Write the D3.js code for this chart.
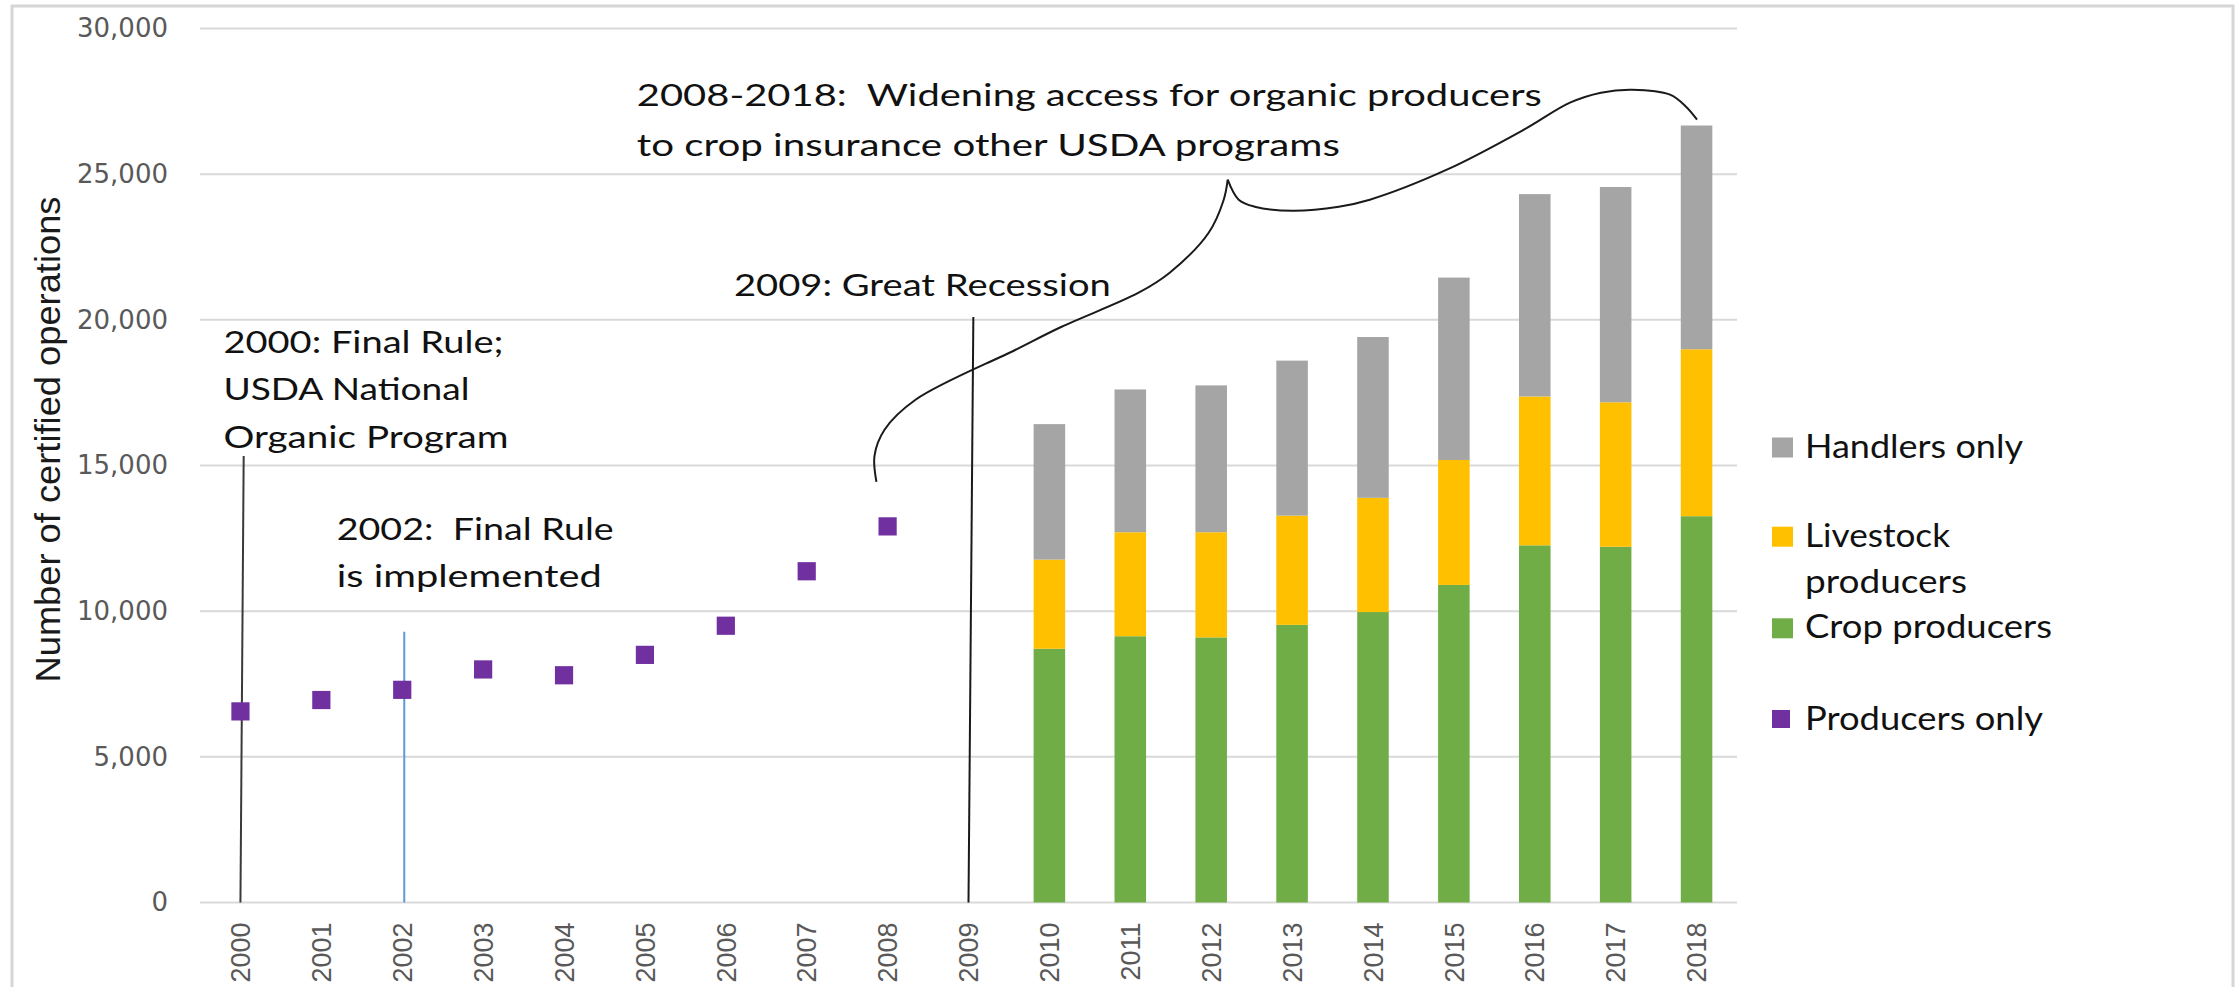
<!DOCTYPE html>
<html><head><meta charset="utf-8">
<script src="https://cdn.jsdelivr.net/npm/d3@7/dist/d3.min.js"></script>
<style>
html,body{margin:0;padding:0;background:#fff;}
svg{display:block;}
text{white-space:pre;}
</style>
</head><body>
<svg id="chart" width="2239" height="987"></svg>
<script>
// ---------------- DATA ----------------
const years = ["2000","2001","2002","2003","2004","2005","2006","2007","2008","2009",
               "2010","2011","2012","2013","2014","2015","2016","2017","2018"];
const pointYears = ["2000","2001","2002","2003","2004","2005","2006","2007","2008"];
const producersOnly = [6560, 6950, 7300, 8000, 7800, 8500, 9500, 11370, 12910];
const barYears = ["2010","2011","2012","2013","2014","2015","2016","2017","2018"];
const cropProducers      = [8710, 9140, 9100, 9530, 9970, 10900, 12260, 12210, 13260];
const livestockProducers = [3060, 3570, 3610, 3750, 3920, 4290, 5110, 4960, 5730];
const handlersOnly       = [4650, 4900, 5040, 5320, 5520, 6260, 6945, 7390, 7680];
const yTicks = [0, 5000, 10000, 15000, 20000, 25000, 30000];
const yTitle = "Number of certified operations";
const legendLabels = [["Handlers only"], ["Livestock", "producers"], ["Crop producers"], ["Producers only"]];
// annotation texts, anchored in data space [year, value]
const noteTexts = [
  ["2000: Final Rule;", "USDA National", "Organic Program"],
  ["2002:  Final Rule", "is implemented"],
  ["2009: Great Recession"],
  ["2008-2018:  Widening access for organic producers", "to crop insurance other USDA programs"]
];
const noteAnchors = [[1999.79, 18870], [2001.19, 12450], [2006.10, 20830], [2004.90, 27330]];
// leader lines [year, value]
const leader2000 = [[2000.04, 15330], [2000.0, 0]];
const leader2002 = [[2002.025, 9290], [2002.025, 0]];
const leader2009 = [[2009.06, 20100], [2009.0, 0]];
// brace (two arms meeting at a cusp under the 2008-2018 note)
const braceLeft = [[2007.862,14440],[2007.838,15333],[2007.962,16226],[2008.345,17256],[2009.582,18973],
                   [2010.151,19763],[2011.103,20930],[2011.487,21617],[2011.969,22991],[2012.155,24124],[2012.204,24811]];
const braceRight = [[2012.204,24811],[2012.340,24124],[2012.538,23884],[2013.008,23746],[2013.577,23884],
                    [2013.961,24124],[2014.913,25154],[2015.866,26528],[2016.435,27455],[2016.818,27798],
                    [2017.202,27901],[2017.672,27730],[2017.870,27317],[2018.006,26871]];

// ---------------- STYLE / LAYOUT ----------------
const colors = {handlers:"#A5A5A5", livestock:"#FFC000", crop:"#70AD47", producers:"#7030A0"};
const plot = {left:200, right:1737, top:28.5, bottom:902.5};
const annFont = "Lato, 'Open Sans', sans-serif";
// widths of the stretched reference texts
const noteWidths = [[280, 246, 285], [277, 265], [377], [905, 703]];
const noteLineGap = [47.5, 47, 0, 50];
const legendWidths = [[218], [145, 162], [247], [238]];

const svg = d3.select("#chart");

// frame
svg.append("rect").attr("x",12).attr("y",6).attr("width",2221).attr("height",1000)
   .attr("fill","none").attr("stroke","#D6D6D6").attr("stroke-width",3);

const x = d3.scaleBand().domain(years).range([plot.left, plot.right]).padding(0);
const bw = x.bandwidth();
const cx = d => x(d) + bw/2;
const xLin = d3.scaleLinear().domain([2000, 2018]).range([cx("2000"), cx("2018")]);
const y = d3.scaleLinear().domain([0, 30000]).range([plot.bottom, plot.top]);

// gridlines
svg.append("g").selectAll("line").data(yTicks).join("line")
  .attr("x1", plot.left).attr("x2", plot.right)
  .attr("y1", d => y(d)).attr("y2", d => y(d))
  .attr("stroke", "#D9D9D9").attr("stroke-width", 2);

// y axis labels
const gy = svg.append("g").attr("transform", `translate(${plot.left},0)`)
  .call(d3.axisLeft(y).tickValues(yTicks).tickSize(0).tickPadding(32).tickFormat(d3.format(",")));
gy.select(".domain").remove();
gy.selectAll("text").attr("font-family","'DejaVu Sans', sans-serif").attr("font-size",26).attr("fill","#595959");

// x axis labels
const gx = svg.append("g").attr("transform", `translate(0,${plot.bottom})`)
  .call(d3.axisBottom(x).tickSize(0).tickPadding(0));
gx.select(".domain").remove();
gx.selectAll("text")
  .attr("transform","rotate(-90)").attr("text-anchor","end")
  .attr("x",-20).attr("y",0).attr("dy","0.36em")
  .attr("font-family","'Liberation Sans', Arial, sans-serif").attr("font-size",27).attr("fill","#595959");

// y title
svg.append("text")
  .attr("transform", `translate(60,${(y(0)+y(30000))/2 - 26}) rotate(-90)`)
  .attr("text-anchor","middle")
  .attr("font-family","'Liberation Sans', Arial, sans-serif").attr("font-size",35).attr("fill","#1a1a1a")
  .attr("textLength",486).attr("lengthAdjust","spacingAndGlyphs")
  .text(yTitle);

// stacked bars
const table = barYears.map((yr,i) => ({year:yr, crop:cropProducers[i], livestock:livestockProducers[i], handlers:handlersOnly[i]}));
const stack = d3.stack().keys(["crop","livestock","handlers"])(table);
const barW = bw * 0.39;
svg.append("g").selectAll("g").data(stack).join("g")
  .attr("fill", s => colors[s.key])
  .selectAll("rect").data(s => s).join("rect")
  .attr("x", d => cx(d.data.year) - barW/2)
  .attr("width", barW)
  .attr("y", d => y(d[1]))
  .attr("height", d => y(d[0]) - y(d[1]));

// leader lines
const line = d3.line().x(d => xLin(d[0])).y(d => y(d[1]));
svg.append("path").attr("d", line(leader2000)).attr("stroke","#3a3a3a").attr("stroke-width",2).attr("fill","none");
svg.append("path").attr("d", line(leader2002)).attr("stroke","#5B9BD5").attr("stroke-width",2).attr("fill","none");
svg.append("path").attr("d", line(leader2009)).attr("stroke","#1a1a1a").attr("stroke-width",2).attr("fill","none");
const curve = d3.line().x(d => xLin(d[0])).y(d => y(d[1])).curve(d3.curveCatmullRom.alpha(0.5));
svg.append("path").attr("d", curve(braceLeft)).attr("stroke","#1a1a1a").attr("stroke-width",2).attr("fill","none");
svg.append("path").attr("d", curve(braceRight)).attr("stroke","#1a1a1a").attr("stroke-width",2).attr("fill","none");

// producers-only markers
const mk = bw * 0.225;
svg.append("g").selectAll("rect").data(pointYears.map((yr,i)=>({year:yr, v:producersOnly[i]}))).join("rect")
  .attr("x", d => cx(d.year) - mk/2).attr("y", d => y(d.v) - mk/2)
  .attr("width", mk).attr("height", mk).attr("fill", colors.producers);

// annotations
noteTexts.forEach((lines, k) => {
  const ax = xLin(noteAnchors[k][0]), ay = y(noteAnchors[k][1]);
  lines.forEach((t, j) => {
    svg.append("text").attr("x", ax).attr("y", ay + j*noteLineGap[k])
      .attr("font-family", annFont).attr("font-size", 31).attr("fill", "#111")
      .attr("textLength", noteWidths[k][j]).attr("lengthAdjust","spacingAndGlyphs")
      .text(t);
  });
});

// legend
const legendKeys = ["handlers","livestock","crop","producers"];
const legendBase = [457.5, 546.7, 638.3, 730];
const lg = svg.append("g");
legendKeys.forEach((key, i) => {
  const sw = key === "producers" ? 18 : 21;
  lg.append("rect").attr("x", 1772).attr("y", legendBase[i] - 20).attr("width", sw).attr("height", key==="producers"?18:20)
    .attr("fill", colors[key]);
  legendLabels[i].forEach((t, j) => {
    lg.append("text").attr("x", 1805).attr("y", legendBase[i] + j*46.5)
      .attr("font-family", annFont).attr("font-size", 32).attr("fill", "#111")
      .attr("textLength", legendWidths[i][j]).attr("lengthAdjust","spacingAndGlyphs")
      .text(t);
  });
});
</script>
</body></html>
